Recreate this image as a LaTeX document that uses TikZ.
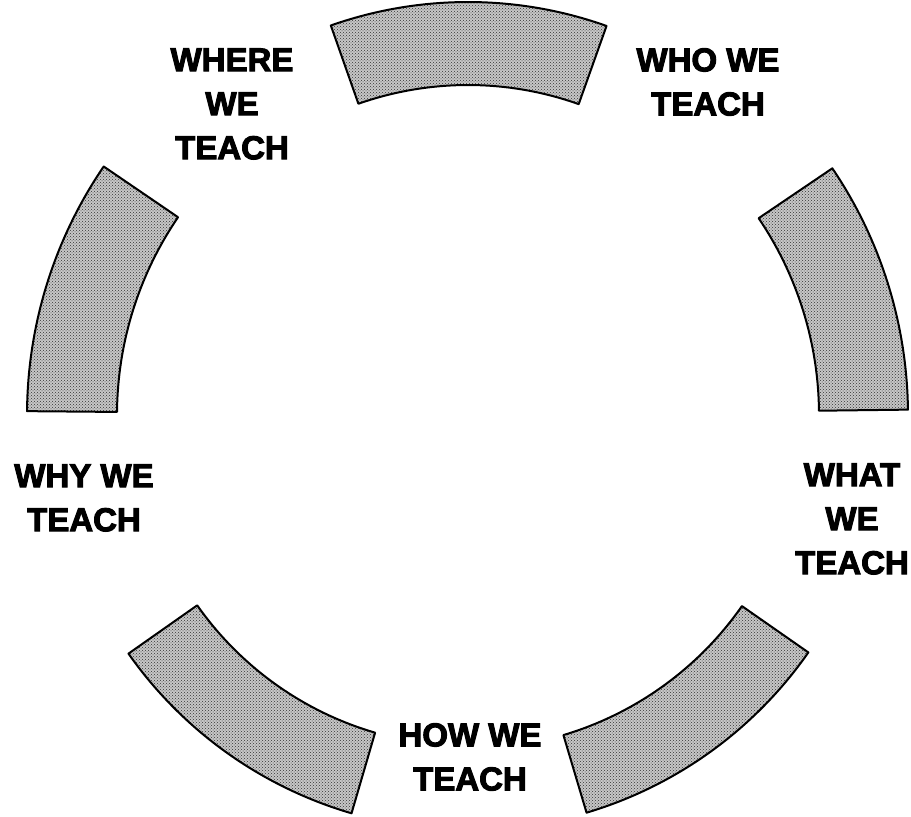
\documentclass[tikz,border=0pt]{standalone}
\usepackage{fontspec}
\newfontfamily\labff[BoldFeatures={FakeBold=3}]{Liberation Sans}
\usetikzlibrary{patterns}
\tikzset{
  seg/.style={draw=black, line width=2pt, line join=round,
    preaction={fill=black!22}, pattern=crosshatch dots, pattern color=black!80},
  lab/.style={font=\labff\bfseries\fontsize{33}{44}\selectfont, align=center, inner sep=0pt}
}
\newcommand\ringseg[4]{% start angle, end angle, outer r, inner r
  \draw[seg] (#1:#3pt) arc[start angle=#1, end angle=#2, radius=#3pt]
    -- (#2:#4pt) arc[start angle=#2, end angle=#1, radius=#4pt] -- cycle;}
\begin{document}
\begin{tikzpicture}[x=1pt,y=1pt]
\useasboundingbox (0,-817) rectangle (911,0);
\begin{scope}[shift={(468,-415)}]
  \ringseg{70.4}{109.4}{413}{330}
  \ringseg{145.7}{179.5}{441}{351}
  \ringseg{0.7}{34.1}{440}{351}
  \ringseg{215.1}{253.7}{415}{331}
  \ringseg{286.6}{325.1}{415}{334}
\end{scope}
\node[lab] (where) at (232,-104) {WHERE\\WE\\TEACH};
\node[lab] (who) at (708,-82) {WHO WE\\TEACH};
\node[lab] (why) at (84,-498) {WHY WE\\TEACH};
\node[lab] (what) at (852,-519) {WHAT\\WE\\TEACH};
\node[lab] (how) at (470,-757) {HOW WE\\TEACH};
\end{tikzpicture}
\end{document}
